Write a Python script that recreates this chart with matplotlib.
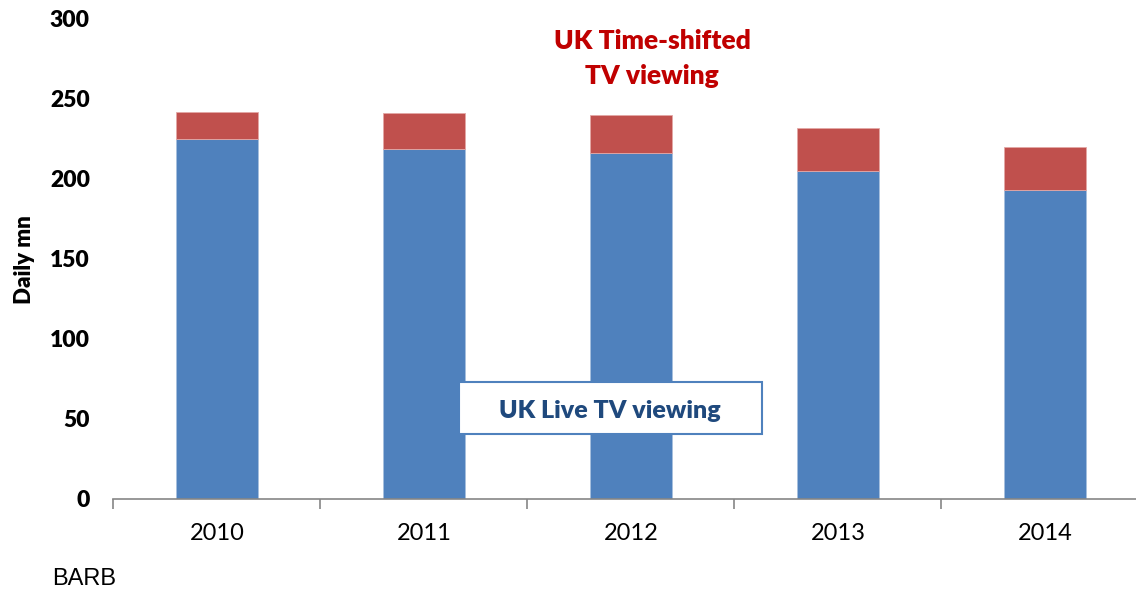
import matplotlib.pyplot as plt
from matplotlib.patches import Rectangle

# Daily minutes of TV viewing in the UK (BARB)
years = ["2010", "2011", "2012", "2013", "2014"]
live_tv = [225, 219, 216, 205, 193]
time_shifted = [17, 22, 24, 27, 27]

BLUE = "#4F81BD"
RED = "#C0504D"
GREY = "#868686"

plt.rcParams["font.family"] = ["Lato", "DejaVu Sans"]

fig = plt.figure(figsize=(11.36, 5.97), dpi=100)
ax = fig.add_axes([0.0999, 0.1642, 0.9111, 0.804])

x = range(len(years))
ax.bar(x, live_tv, width=0.4, color=BLUE, edgecolor="#A7C0DE", linewidth=0.6)
ax.bar(x, time_shifted, width=0.4, bottom=live_tv, color=RED,
       edgecolor="#E3A8A6", linewidth=0.6)

ax.set_xlim(-0.5, len(years) - 0.5)
ax.set_ylim(0, 300)
ax.set_yticks(range(0, 301, 50))
ax.set_yticklabels([str(v) for v in range(0, 301, 50)], fontsize=16.5,
                   fontweight="heavy")
ax.tick_params(axis="y", length=0, pad=17)

ax.set_xticks(list(x))
ax.set_xticklabels(years, fontsize=17)
ax.tick_params(axis="x", which="major", length=0, pad=17)
ax.set_xticks([i - 0.5 for i in range(len(years) + 1)], minor=True)
ax.tick_params(axis="x", which="minor", length=7, width=1.2, color=GREY,
               direction="out")

for side in ("top", "right", "left"):
    ax.spines[side].set_visible(False)
ax.spines["bottom"].set_color(GREY)
ax.spines["bottom"].set_linewidth(1.2)

fig.text(0.022, 0.565, "Daily mn", rotation=90, ha="center", va="center",
         fontsize=16, fontweight="heavy")

fig.text(0.574, 0.902, "UK Time-shifted\nTV viewing", ha="center",
         va="center", fontsize=19, fontweight="heavy", color="#C00000",
         linespacing=1.55)

fig.patches.append(Rectangle((0.404, 0.273), 0.2667, 0.0871,
                             transform=fig.transFigure, facecolor="white",
                             edgecolor=BLUE, linewidth=1.5, zorder=5))
fig.text(0.537, 0.312, "UK Live TV viewing", ha="center", va="center",
         fontsize=18, fontweight="heavy", color="#1F497D", zorder=6)

fig.text(0.046, 0.012, "BARB", ha="left", va="bottom", fontsize=17,
         family=["Liberation Sans", "DejaVu Sans"])

fig.savefig("out.png", dpi=100)
